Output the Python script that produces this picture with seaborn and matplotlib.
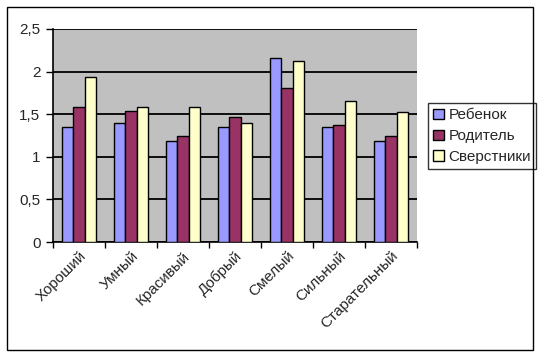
import matplotlib
matplotlib.use("Agg")
import matplotlib.pyplot as plt
import numpy as np
import pandas as pd
import seaborn as sns
from matplotlib.patches import Rectangle
from matplotlib.ticker import FuncFormatter

# data
categories = ["Хороший", "Умный", "Красивый", "Добрый", "Смелый", "Сильный", "Старательный"]
rebenok = [1.35, 1.40, 1.19, 1.35, 2.16, 1.35, 1.19]
roditel = [1.58, 1.54, 1.24, 1.47, 1.81, 1.37, 1.24]
sverstniki = [1.94, 1.58, 1.58, 1.40, 2.12, 1.65, 1.53]
series_names = ["Ребенок", "Родитель", "Сверстники"]
colors = ["#9999FF", "#993366", "#FFFFCC"]

df = pd.DataFrame({
    "cat": categories * 3,
    "val": rebenok + roditel + sverstniki,
    "who": [series_names[0]] * 7 + [series_names[1]] * 7 + [series_names[2]] * 7,
})

sns.set_style("white")
plt.rcParams["font.family"] = ["Liberation Sans", "DejaVu Sans"]

fig = plt.figure(figsize=(5.39, 3.56), dpi=100)
ax = fig.add_axes([53 / 539, 1 - 242 / 356, 364 / 539, 213 / 356])
ax.set_facecolor("#C0C0C0")

sns.barplot(data=df, x="cat", y="val", hue="who", order=categories,
            hue_order=series_names, palette=colors, width=0.67,
            edgecolor="black", linewidth=1, saturation=1, ax=ax, zorder=3)

ax.set_ylim(0, 2.5)
ax.set_xlim(-0.5, 6.5)
ax.set_yticks(np.arange(0, 2.51, 0.5))
ax.yaxis.set_major_formatter(FuncFormatter(lambda v, p: f"{v:g}".replace(".", ",")))
ax.yaxis.grid(True, color="black", linewidth=1.3, zorder=1)
ax.set_axisbelow(True)
ax.set_xlabel("")
ax.set_ylabel("")

# ticks between categories, labels at centres
ax.set_xticks(np.arange(-0.5, 7, 1), minor=True)
ax.tick_params(axis="x", which="minor", length=4, color="black", width=1, direction="out", bottom=True)
ax.tick_params(axis="x", which="major", length=0, pad=5)
ax.tick_params(axis="y", length=5, color="black", width=1, direction="out", left=True, labelsize=11, pad=4)
ax.set_xticks(range(len(categories)))
ax.set_xticklabels(categories, rotation=45, ha="right", rotation_mode="anchor", fontsize=11)

for s in ["top", "right"]:
    ax.spines[s].set_visible(False)
for s in ["left", "bottom"]:
    ax.spines[s].set_color("black")
    ax.spines[s].set_linewidth(1.2)

leg = ax.legend(loc="upper left", bbox_to_anchor=(428 / 539, 1 - 103 / 356),
                bbox_transform=fig.transFigure, fontsize=11, frameon=True,
                fancybox=False, handlelength=0.7, handleheight=0.7,
                handletextpad=0.3, borderpad=0.35, labelspacing=0.45,
                borderaxespad=0)
leg.get_frame().set_edgecolor("black")
leg.get_frame().set_linewidth(1)
for h in leg.legend_handles:
    h.set_edgecolor("black")

fig.patches.append(Rectangle((7 / 539, 1 - 350 / 356), 526 / 539, 343 / 356,
                             transform=fig.transFigure, fill=False,
                             edgecolor="black", linewidth=1))

fig.savefig("out.png", dpi=100, facecolor="white")
